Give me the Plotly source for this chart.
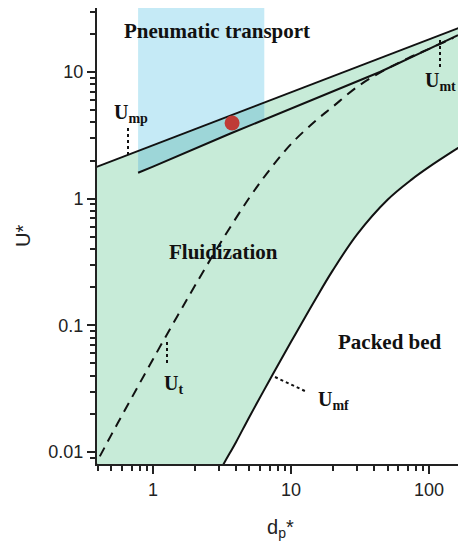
import numpy as np
import plotly.graph_objects as go

# ---- data ----
# Minimum fluidization velocity U_mf (solid curve)
umf_x = [2.5, 3.2, 4, 5, 7, 10, 15, 20, 30, 50, 75, 100, 150, 200]
umf_y = [0.0047, 0.0078, 0.012, 0.019, 0.037, 0.074, 0.16, 0.27, 0.52, 0.98, 1.42, 1.78, 2.38, 2.9]

# Terminal velocity U_t (dashed curve)
ut_x = [0.36, 0.5, 0.7, 1, 1.5, 2, 3, 5, 7, 10, 15, 20, 30, 45, 70, 100, 150]
ut_y = [0.0070, 0.0137, 0.0267, 0.054, 0.118, 0.203, 0.427, 1.02, 1.69, 2.7, 4.1, 5.3, 7.6, 10.0, 12.8, 15.2, 18.6]

# U_mp (upper straight line)
ump_x = [0.35, 0.78, 1, 3, 6.4, 10, 30, 100, 200]
ump_y = [1.70, 2.38, 2.64, 4.18, 5.74, 6.92, 10.9, 18.1, 24.2]

# U_mt (lower straight line)
umt_x = [0.78, 1, 3.6, 6.4, 10, 19.2, 44, 100, 162]
umt_y = [1.60, 1.79, 3.25, 4.20, 5.12, 6.84, 10.0, 15.2, 19.5]

# Pneumatic transport band (d_p* range) and operating point
band_x = [0.78, 6.4]
point_x = [3.74]
point_y = [3.96]

# tick labels
x_ticks = [1, 10, 100]
x_ticktext = ["1", "10", "100"]
y_ticks = [0.01, 0.1, 1, 10]
y_ticktext = ["0.01", "0.1", "1", "10"]

GREEN = "#c7ebd8"
BLUE = "#c5eaf6"
TEAL = "#9dd6d8"
LINE = "#111111"
Y_LOW = 0.001
Y_HIGH = 60

fig = go.Figure()

# Green fluidization region: below U_mp and above U_mf
gx = [ump_x[0]] + ump_x + umf_x[::-1] + [umf_x[0], ump_x[0]]
gy = [Y_LOW] + ump_y + umf_y[::-1] + [Y_LOW, Y_LOW]
fig.add_trace(go.Scatter(x=gx, y=gy, fill="toself", fillcolor=GREEN,
                         line=dict(width=0), mode="lines", hoverinfo="skip", showlegend=False))

# Blue band: above U_mt within band
in_mt = [i for i, v in enumerate(umt_x) if band_x[0] <= v <= band_x[1]]
in_mp = [i for i, v in enumerate(ump_x) if band_x[0] <= v <= band_x[1]]
bx = [umt_x[i] for i in in_mt] + [band_x[1], band_x[0]]
by = [umt_y[i] for i in in_mt] + [Y_HIGH, Y_HIGH]
fig.add_trace(go.Scatter(x=bx, y=by, fill="toself", fillcolor=BLUE,
                         line=dict(width=0), mode="lines", hoverinfo="skip", showlegend=False))

# Overlap between the two straight lines inside the band
tx = [ump_x[i] for i in in_mp] + [umt_x[i] for i in in_mt][::-1]
ty = [ump_y[i] for i in in_mp] + [umt_y[i] for i in in_mt][::-1]
fig.add_trace(go.Scatter(x=tx, y=ty, fill="toself", fillcolor=TEAL,
                         line=dict(width=0), mode="lines", hoverinfo="skip", showlegend=False))

# Curves
fig.add_trace(go.Scatter(x=umf_x, y=umf_y, mode="lines", line=dict(color=LINE, width=2),
                         line_shape="spline", showlegend=False))
fig.add_trace(go.Scatter(x=ut_x, y=ut_y, mode="lines", line=dict(color=LINE, width=2, dash="10px,7px"),
                         line_shape="spline", showlegend=False))
fig.add_trace(go.Scatter(x=ump_x, y=ump_y, mode="lines", line=dict(color=LINE, width=2), showlegend=False))
fig.add_trace(go.Scatter(x=umt_x, y=umt_y, mode="lines", line=dict(color=LINE, width=2), showlegend=False))
fig.add_trace(go.Scatter(x=point_x, y=point_y, mode="markers",
                         marker=dict(color="#bf3b36", size=15, line=dict(width=0)), showlegend=False))

# page offset of the plot div (default body margin)
OFF = 8
PAGE_W, PAGE_H = 466, 542
PL, PT, PR, PB = 97, 8, 466, 464     # plot area in page pixels
W, H = PAGE_W - OFF, PAGE_H - OFF
L, T = PL - OFF, PT - OFF
R = W - (PR - OFF)
B = H - (PB - OFF)
PW, PH = PR - PL, PB - PT


def px(x):
    return (x - PL) / PW


def py(y):
    return (PB - y) / PH


serif = "Liberation Serif, Times New Roman, serif"
sans = "Liberation Sans, Arial, sans-serif"

ann = []
for text, cx, cy in [
    ("<b>Pneumatic transport</b>", 217, 31),
    ("<b>Fluidization</b>", 223, 252),
    ("<b>Packed bed</b>", 390, 342),
]:
    ann.append(dict(text=text, x=px(cx), y=py(cy), xref="paper", yref="paper",
                    xanchor="center", yanchor="middle", showarrow=False,
                    font=dict(family=serif, size=21, color="#111")))

for text, lx, cy in [
    ("<b>U<sub>mp</sub></b>", 112, 114),
    ("<b>U<sub>mt</sub></b>", 423, 82),
    ("<b>U<sub>t</sub></b>", 162, 384),
    ("<b>U<sub>mf</sub></b>", 316, 400),
]:
    ann.append(dict(text=text, x=px(lx), y=py(cy), xref="paper", yref="paper",
                    xanchor="left", yanchor="middle", showarrow=False,
                    font=dict(family=serif, size=20, color="#111")))

# axis titles
ann.append(dict(text="U*", x=px(23), y=py(236), xref="paper", yref="paper",
                textangle=-90, showarrow=False, xanchor="center", yanchor="middle",
                font=dict(family=sans, size=20, color="#222")))
ann.append(dict(text="d<sub>p</sub>*", x=px(280), y=py(528), xref="paper", yref="paper",
                showarrow=False, xanchor="center", yanchor="middle",
                font=dict(family=sans, size=20, color="#222")))

shapes = []
for (x0, y0, x1, y1) in [(128, 128, 128, 155), (440, 40, 440, 68), (167, 342, 167, 365), (275, 377, 307, 392)]:
    shapes.append(dict(type="line", xref="paper", yref="paper", x0=px(x0), y0=py(y0), x1=px(x1), y1=py(y1),
                       line=dict(color="#111", width=2, dash="dot")))

fig.update_layout(
    width=W, height=H, margin=dict(l=L, r=R, t=T, b=B, pad=0, autoexpand=False),
    paper_bgcolor="white", plot_bgcolor="white",
    annotations=ann, shapes=shapes,
    xaxis=dict(type="log", range=[-0.4056, 2.2672], tickvals=x_ticks, ticktext=x_ticktext,
               ticks="outside", ticklen=8, tickwidth=2, tickcolor="#222",
               showline=True, linewidth=2, linecolor="#222", mirror=True,
               showgrid=False, zeroline=False,
               tickfont=dict(family=sans, size=18, color="#222"),
               minor=dict(ticks="outside", ticklen=5, tickwidth=1.5, tickcolor="#222", dtick="D1", showgrid=False)),
    yaxis=dict(type="log", range=[-2.095, 1.505], tickvals=y_ticks, ticktext=y_ticktext,
               ticks="outside", ticklen=8, tickwidth=2, tickcolor="#222",
               showline=True, linewidth=2, linecolor="#222",
               showgrid=False, zeroline=False,
               tickfont=dict(family=sans, size=18, color="#222"),
               minor=dict(ticks="outside", ticklen=5, tickwidth=1.5, tickcolor="#222", dtick="D1", showgrid=False)),
)

fig.write_html("out.html")
